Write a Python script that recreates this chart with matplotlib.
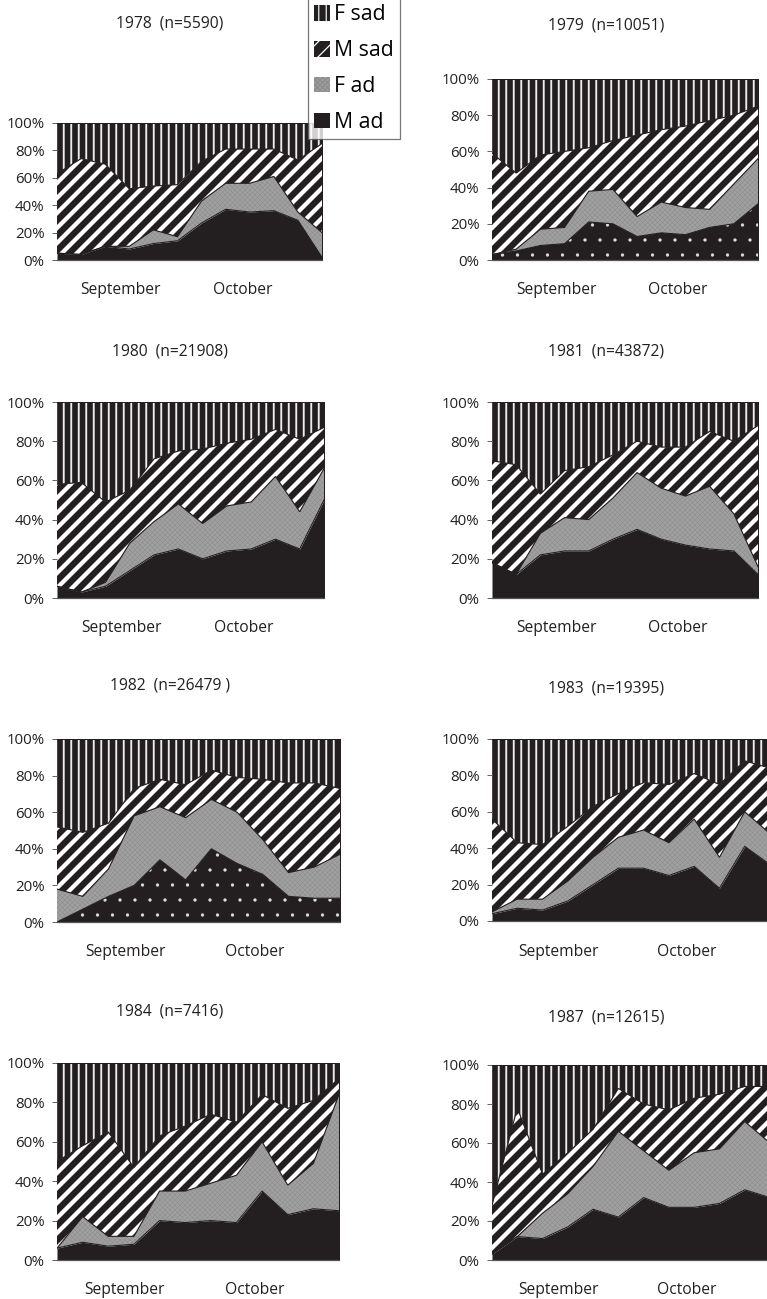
import numpy as np
import matplotlib.pyplot as plt
import matplotlib.patches as mpatches

plt.rcParams['font.family'] = ['Open Sans', 'DejaVu Sans']

# weekly share (%) of each age/sex class, Sept-Oct, per year
years = ['1978', '1979', '1980', '1981', '1982', '1983', '1984', '1987']
sample_n = ['5590', '10051', '21908', '43872', '26479 ', '19395', '7416', '12615']
months = ['September', 'October']
classes = ['F sad', 'M sad', 'F ad', 'M ad']

m_ad = {
    '1978': [5, 4, 10, 8, 12, 14, 27, 37, 35, 36, 29, 2],
    '1979': [3, 5, 8, 9, 21, 20, 13, 15, 14, 18, 20, 31],
    '1980': [6, 3, 6, 14, 22, 25, 20, 24, 25, 30, 25, 50],
    '1981': [18, 12, 22, 24, 24, 30, 35, 30, 27, 25, 24, 12],
    '1982': [0, 7, 14, 20, 34, 23, 40, 32, 26, 14, 13, 13],
    '1983': [4, 7, 6, 11, 20, 29, 29, 25, 30, 18, 41, 31],
    '1984': [6, 9, 7, 8, 20, 19, 20, 19, 35, 23, 26, 25],
    '1987': [3, 12, 11, 17, 26, 22, 32, 27, 27, 29, 36, 32],
}
f_ad = {
    '1978': [0, 0, 0, 2, 10, 3, 16, 19, 21, 25, 6, 18],
    '1979': [0, 1, 9, 9, 17, 19, 11, 17, 15, 10, 22, 25],
    '1980': [0, 0, 2, 14, 17, 23, 18, 23, 24, 32, 19, 16],
    '1981': [0, 0, 11, 17, 16, 21, 29, 26, 25, 32, 19, 4],
    '1982': [18, 7, 15, 38, 29, 34, 27, 28, 19, 13, 17, 24],
    '1983': [1, 5, 6, 11, 15, 17, 21, 18, 26, 17, 19, 17],
    '1984': [0, 13, 5, 4, 15, 16, 19, 24, 25, 15, 23, 59],
    '1987': [0, 0, 13, 17, 22, 44, 24, 19, 28, 28, 35, 28],
}
m_sad = {
    '1978': [58, 70, 60, 42, 32, 38, 29, 25, 25, 20, 38, 65],
    '1979': [56, 42, 41, 42, 24, 27, 45, 40, 45, 49, 38, 29],
    '1980': [52, 56, 41, 27, 32, 27, 38, 32, 32, 24, 37, 21],
    '1981': [52, 56, 20, 24, 27, 22, 16, 21, 25, 28, 37, 72],
    '1982': [34, 35, 25, 15, 15, 18, 16, 19, 33, 49, 46, 36],
    '1983': [51, 31, 30, 30, 28, 24, 26, 32, 25, 40, 28, 36],
    '1984': [44, 36, 53, 35, 28, 33, 35, 27, 24, 39, 32, 8],
    '1987': [25, 66, 20, 21, 19, 22, 24, 31, 28, 28, 18, 29],
}

ink = '#231f20'
styles = {
    'M ad': dict(facecolor=ink, edgecolor='#dddddd', hatch=None, hlw=0.2),
    'F ad': dict(facecolor='#a0a0a0', edgecolor='#8c8c8c', hatch='xxxxxx', hlw=0.4),
    'M sad': dict(facecolor=ink, edgecolor='white', hatch='//', hlw=3.4),
    'F sad': dict(facecolor=ink, edgecolor='#eeeeee', hatch='||', hlw=1.5),
}
dotted = {'1979', '1982'}

W, H = 767, 1299
fig = plt.figure(figsize=(W / 90, H / 90), dpi=90)

# panel boxes in pixels: left, right, top, bottom
boxes = {
    '1978': (57, 322, 123, 260), '1979': (492, 758, 79, 260),
    '1980': (57, 324, 402, 598), '1981': (492, 758, 402, 598),
    '1982': (57, 340, 739, 922), '1983': (492, 770, 739, 921),
    '1984': (57, 339, 1063, 1260), '1987': (492, 770, 1065, 1260),
}
title_pos = {
    '1978': (170, 23), '1979': (606, 26), '1980': (170, 352), '1981': (606, 352),
    '1982': (170, 685), '1983': (606, 688), '1984': (170, 1012), '1987': (606, 1018),
}


def fill_layer(ax, x, lo, hi, st, hatch):
    with plt.rc_context({'hatch.linewidth': st['hlw']}):
        coll = ax.fill_between(x, lo, hi, facecolor=st['facecolor'],
                               edgecolor=st['edgecolor'], hatch=hatch,
                               linewidth=0)
    if hasattr(coll, 'set_hatch_linewidth'):
        coll.set_hatch_linewidth(st['hlw'])
    return coll


for yr, n in zip(years, sample_n):
    l, r, t, b = boxes[yr]
    ax = fig.add_axes([l / W, 1 - b / H, (r - l) / W, (b - t) / H])
    layers = [np.array(m_ad[yr]), np.array(f_ad[yr]), np.array(m_sad[yr])]
    layers.append(100 - sum(layers))
    x = np.arange(len(layers[0]))
    lo = np.zeros(len(x))
    for name, vals in zip(['M ad', 'F ad', 'M sad', 'F sad'], layers):
        st = styles[name]
        hatch = st['hatch']
        if name == 'M ad' and yr in dotted:
            hatch = '.'
        fill_layer(ax, x, lo, lo + vals, st, hatch)
        if name != 'F sad':
            ax.plot(x, lo + vals, color=ink, lw=0.9, solid_joinstyle='miter')
        lo = lo + vals

    ax.set_xlim(0, 11)
    ax.set_ylim(0, 100)
    ax.set_yticks(range(0, 101, 20))
    ax.set_yticklabels([f'{v}%' for v in range(0, 101, 20)])
    ax.set_xticks([2.65, 7.7])
    ax.set_xticklabels(months)
    ax.tick_params(axis='y', length=4, width=0.8, color='#666666', pad=6,
                   labelsize=12, labelcolor=ink)
    ax.tick_params(axis='x', length=0, pad=18, labelsize=12.5, labelcolor=ink)
    for side in ['top', 'right']:
        ax.spines[side].set_color(ink)
    ax.spines['left'].set_visible(False)
    ax.spines['bottom'].set_color('#555555')
    ax.spines['bottom'].set_linewidth(1.0)

    tx, ty = title_pos[yr]
    fig.text(tx / W, 1 - ty / H, f'{yr}  (n={n})', ha='center', va='center',
             fontsize=12.5, color=ink)

handles = []
for name in classes:
    st = styles[name]
    with plt.rc_context({'hatch.linewidth': min(st['hlw'], 1.6)}):
        handles.append(mpatches.Patch(facecolor=st['facecolor'],
                                      edgecolor=st['edgecolor'],
                                      hatch=st['hatch'], linewidth=0))
leg = fig.legend(handles, classes, loc='upper left',
                 bbox_to_anchor=(308 / W, 1 + 2 / H), fontsize=17,
                 frameon=True, fancybox=False, edgecolor='#555555',
                 handlelength=0.75, handleheight=0.75, handletextpad=0.15,
                 labelspacing=0.7, borderpad=0.3, borderaxespad=0)
leg.get_frame().set_linewidth(1.0)

fig.savefig('out.png', dpi=90)
